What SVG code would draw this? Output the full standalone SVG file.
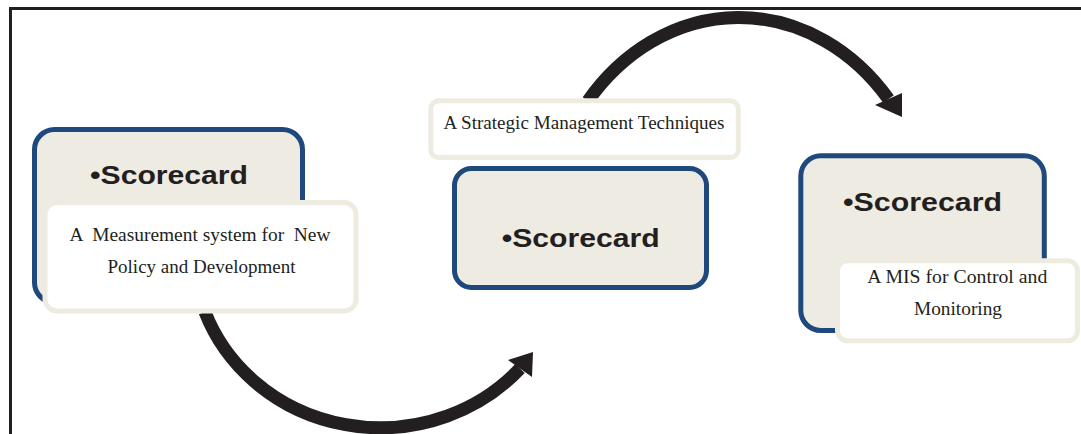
<svg xmlns="http://www.w3.org/2000/svg" width="1081" height="434" viewBox="0 0 1081 434">
<style>
.frame{fill:none;stroke:#231f20;stroke-width:3}
.main{fill:#eeebe3;stroke:#1f497d;stroke-width:5}
.label{fill:#ffffff;stroke:#eeece1;stroke-width:5}
.shaft{fill:none;stroke:#231f20;stroke-width:13}
.head{fill:#231f20}
.title{font-family:"Liberation Sans",Arial,sans-serif;font-weight:bold;font-size:25px;fill:#231f20}
.txt{font-family:"Liberation Serif","Times New Roman",serif;font-size:19px;fill:#231f20;white-space:pre}
</style>
<rect class="frame" x="10.5" y="8.5" width="1100" height="500"/>
<g id="connectors">
  <path class="shaft" d="M205 312 A187 177 0 0 0 520 368.5"/>
  <polygon class="head" points="508,360 533,352 532,377"/>
  <path class="shaft" d="M588 101 A195 227.5 0 0 1 888.5 99"/>
  <polygon class="head" points="875,105 902,93 902,117"/>
</g>
<g id="node1">
  <rect class="main" x="34.5" y="129.5" width="268" height="173" rx="20"/>
  <text class="title" x="90" y="183.5" textLength="158" lengthAdjust="spacingAndGlyphs">•Scorecard</text>
</g>
<g id="label1">
  <rect class="label" x="45" y="202.5" width="311" height="108.5" rx="12"/>
  <text class="txt" x="69.5" y="240.7" textLength="261" lengthAdjust="spacingAndGlyphs">A  Measurement system for  New</text>
  <text class="txt" x="107.5" y="272.7" textLength="188" lengthAdjust="spacingAndGlyphs">Policy and Development</text>
</g>
<g id="label2">
  <rect class="label" x="430.8" y="100.8" width="307.5" height="56.7" rx="8"/>
  <text class="txt" x="443.5" y="129.3" textLength="281" lengthAdjust="spacingAndGlyphs">A Strategic Management Techniques</text>
</g>
<g id="node2">
  <rect class="main" x="454.5" y="168.5" width="252" height="119" rx="17"/>
  <text class="title" x="501.7" y="246.7" textLength="158" lengthAdjust="spacingAndGlyphs">•Scorecard</text>
</g>
<g id="node3">
  <rect class="main" x="800.8" y="155.8" width="243.5" height="174.7" rx="20"/>
  <text class="title" x="843" y="210.7" textLength="159" lengthAdjust="spacingAndGlyphs">•Scorecard</text>
</g>
<g id="label3">
  <rect class="label" x="837.5" y="260.8" width="240" height="80" rx="10"/>
  <text class="txt" x="867.3" y="283.3" textLength="180" lengthAdjust="spacingAndGlyphs">A MIS for Control and</text>
  <text class="txt" x="914" y="315" textLength="88" lengthAdjust="spacingAndGlyphs">Monitoring</text>
</g>
</svg>
